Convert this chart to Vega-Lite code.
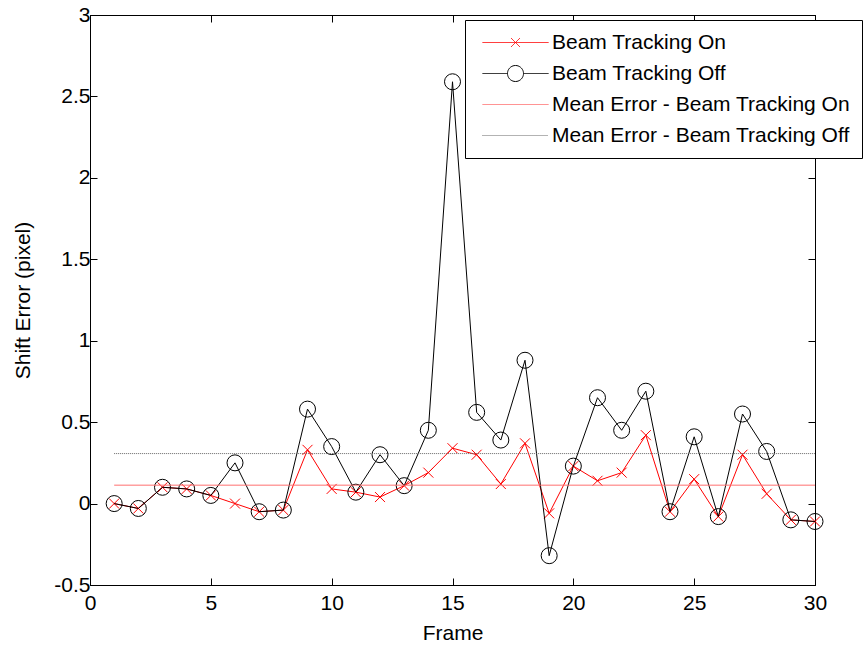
{
  "$schema": "https://vega.github.io/schema/vega-lite/v6.json",
  "width": 725,
  "height": 570,
  "autosize": {"type": "none"},
  "padding": {"left": 90, "top": 15, "right": 51, "bottom": 65},
  "background": "white",
  "config": {
    "view": {"stroke": "black", "strokeWidth": 1},
    "font": "Liberation Sans",
    "axis": {
      "grid": false,
      "domainColor": "black",
      "tickColor": "black",
      "labelColor": "black",
      "titleColor": "black",
      "labelFont": "Liberation Sans",
      "titleFont": "Liberation Sans",
      "labelFontSize": 21,
      "titleFontSize": 21,
      "titleFontWeight": "normal",
      "labelFlush": false
    }
  },
  "datasets": {
    "errors": [
      {"frame": 1, "series": "Beam Tracking On", "err": 0.0},
      {"frame": 2, "series": "Beam Tracking On", "err": -0.03},
      {"frame": 3, "series": "Beam Tracking On", "err": 0.10},
      {"frame": 4, "series": "Beam Tracking On", "err": 0.09},
      {"frame": 5, "series": "Beam Tracking On", "err": 0.05},
      {"frame": 6, "series": "Beam Tracking On", "err": 0.0},
      {"frame": 7, "series": "Beam Tracking On", "err": -0.05},
      {"frame": 8, "series": "Beam Tracking On", "err": -0.04},
      {"frame": 9, "series": "Beam Tracking On", "err": 0.33},
      {"frame": 10, "series": "Beam Tracking On", "err": 0.09},
      {"frame": 11, "series": "Beam Tracking On", "err": 0.07},
      {"frame": 12, "series": "Beam Tracking On", "err": 0.04},
      {"frame": 13, "series": "Beam Tracking On", "err": 0.11},
      {"frame": 14, "series": "Beam Tracking On", "err": 0.19},
      {"frame": 15, "series": "Beam Tracking On", "err": 0.34},
      {"frame": 16, "series": "Beam Tracking On", "err": 0.30},
      {"frame": 17, "series": "Beam Tracking On", "err": 0.12},
      {"frame": 18, "series": "Beam Tracking On", "err": 0.37},
      {"frame": 19, "series": "Beam Tracking On", "err": -0.06},
      {"frame": 20, "series": "Beam Tracking On", "err": 0.23},
      {"frame": 21, "series": "Beam Tracking On", "err": 0.14},
      {"frame": 22, "series": "Beam Tracking On", "err": 0.19},
      {"frame": 23, "series": "Beam Tracking On", "err": 0.42},
      {"frame": 24, "series": "Beam Tracking On", "err": -0.05},
      {"frame": 25, "series": "Beam Tracking On", "err": 0.15},
      {"frame": 26, "series": "Beam Tracking On", "err": -0.08},
      {"frame": 27, "series": "Beam Tracking On", "err": 0.30},
      {"frame": 28, "series": "Beam Tracking On", "err": 0.06},
      {"frame": 29, "series": "Beam Tracking On", "err": -0.10},
      {"frame": 30, "series": "Beam Tracking On", "err": -0.11},
      {"frame": 1, "series": "Beam Tracking Off", "err": 0.0},
      {"frame": 2, "series": "Beam Tracking Off", "err": -0.03},
      {"frame": 3, "series": "Beam Tracking Off", "err": 0.10},
      {"frame": 4, "series": "Beam Tracking Off", "err": 0.09},
      {"frame": 5, "series": "Beam Tracking Off", "err": 0.05},
      {"frame": 6, "series": "Beam Tracking Off", "err": 0.25},
      {"frame": 7, "series": "Beam Tracking Off", "err": -0.05},
      {"frame": 8, "series": "Beam Tracking Off", "err": -0.04},
      {"frame": 9, "series": "Beam Tracking Off", "err": 0.58},
      {"frame": 10, "series": "Beam Tracking Off", "err": 0.35},
      {"frame": 11, "series": "Beam Tracking Off", "err": 0.07},
      {"frame": 12, "series": "Beam Tracking Off", "err": 0.30},
      {"frame": 13, "series": "Beam Tracking Off", "err": 0.11},
      {"frame": 14, "series": "Beam Tracking Off", "err": 0.45},
      {"frame": 15, "series": "Beam Tracking Off", "err": 2.59},
      {"frame": 16, "series": "Beam Tracking Off", "err": 0.56},
      {"frame": 17, "series": "Beam Tracking Off", "err": 0.39},
      {"frame": 18, "series": "Beam Tracking Off", "err": 0.88},
      {"frame": 19, "series": "Beam Tracking Off", "err": -0.32},
      {"frame": 20, "series": "Beam Tracking Off", "err": 0.23},
      {"frame": 21, "series": "Beam Tracking Off", "err": 0.65},
      {"frame": 22, "series": "Beam Tracking Off", "err": 0.45},
      {"frame": 23, "series": "Beam Tracking Off", "err": 0.69},
      {"frame": 24, "series": "Beam Tracking Off", "err": -0.05},
      {"frame": 25, "series": "Beam Tracking Off", "err": 0.41},
      {"frame": 26, "series": "Beam Tracking Off", "err": -0.08},
      {"frame": 27, "series": "Beam Tracking Off", "err": 0.55},
      {"frame": 28, "series": "Beam Tracking Off", "err": 0.32},
      {"frame": 29, "series": "Beam Tracking Off", "err": -0.10},
      {"frame": 30, "series": "Beam Tracking Off", "err": -0.11}
    ],
    "means": [
      {"series": "Mean Error - Beam Tracking On", "start": 1, "end": 30, "mean": 0.113},
      {"series": "Mean Error - Beam Tracking Off", "start": 1, "end": 30, "mean": 0.307}
    ]
  },
  "layer": [
    {
      "layer": [
        {
          "data": {"name": "errors"},
          "transform": [{"filter": "datum.series === 'Beam Tracking On'"}],
          "mark": {"type": "line", "strokeWidth": 1},
          "encoding": {
            "x": {"field": "frame", "type": "quantitative", "scale": {"domain": [0, 30], "nice": false, "zero": false},
              "axis": {"orient": "bottom", "values": [0, 5, 10, 15, 20, 25, 30], "tickSize": -7, "labelPadding": 14, "title": "Frame", "titlePadding": 9}},
            "y": {"field": "err", "type": "quantitative", "scale": {"domain": [-0.5, 3], "nice": false, "zero": false},
              "axis": {"orient": "left", "values": [-0.5, 0, 0.5, 1, 1.5, 2, 2.5, 3], "labelExpr": "'' + datum.value", "tickSize": -7, "labelPadding": 7, "title": "Shift Error (pixel)", "titlePadding": 20}},
            "color": {"field": "series", "type": "nominal",
              "scale": {"domain": ["Beam Tracking On", "Beam Tracking Off", "Mean Error - Beam Tracking On", "Mean Error - Beam Tracking Off"], "range": ["#ff0000", "#000000", "#ff7070", "#666666"]},
              "legend": {
                "title": null,
                "orient": "none",
                "legendX": 375,
                "legendY": 5,
                "direction": "vertical",
                "columns": 1,
                "strokeColor": "black",
                "fillColor": "white",
                "padding": 12,
                "rowPadding": 9,
                "symbolSize": 100,
                "symbolStrokeWidth": 1,
                "labelFont": "Liberation Sans",
                "labelFontSize": 21,
                "labelColor": "black",
                "labelOffset": 54,
                "labelLimit": 400,
                "encode": {
                  "symbols": {
                    "update": {
                      "shape": {"signal": "datum.value === 'Beam Tracking On' ? 'M-1,0H12.2M4.7,-0.9L6.5,0.9M4.7,0.9L6.5,-0.9' : datum.value === 'Beam Tracking Off' ? 'M-1,0H4M7.2,0H12.2M4,0A1.6,1.6 0 1,0 7.2,0A1.6,1.6 0 1,0 4,0' : 'M-1,0H12.2'"},
                      "strokeDash": {"signal": "datum.value === 'Mean Error - Beam Tracking Off' ? [1, 1] : [1, 0]"},
                      "fill": {"value": "transparent"},
                      "strokeWidth": {"value": 1},
                      "opacity": {"value": 1}
                    }
                  }
                }
              }
            }
          }
        },
        {
          "data": {"name": "errors"},
          "transform": [{"filter": "datum.series === 'Beam Tracking On'"}],
          "mark": {"type": "point", "shape": "M-1,-1L1,1M-1,1L1,-1", "filled": false, "size": 100, "strokeWidth": 1, "opacity": 1},
          "encoding": {
            "x": {"field": "frame", "type": "quantitative"},
            "y": {"field": "err", "type": "quantitative"},
            "color": {"field": "series", "type": "nominal"}
          }
        },
        {
          "data": {"name": "errors"},
          "transform": [{"filter": "datum.series === 'Beam Tracking Off'"}],
          "mark": {"type": "line", "strokeWidth": 1},
          "encoding": {
            "x": {"field": "frame", "type": "quantitative"},
            "y": {"field": "err", "type": "quantitative"},
            "color": {"field": "series", "type": "nominal"}
          }
        },
        {
          "data": {"name": "errors"},
          "transform": [{"filter": "datum.series === 'Beam Tracking Off'"}],
          "mark": {"type": "point", "shape": "circle", "filled": false, "size": 256, "strokeWidth": 1, "opacity": 1},
          "encoding": {
            "x": {"field": "frame", "type": "quantitative"},
            "y": {"field": "err", "type": "quantitative"},
            "color": {"field": "series", "type": "nominal"}
          }
        },
        {
          "data": {"name": "means"},
          "transform": [{"filter": "datum.series === 'Mean Error - Beam Tracking On'"}],
          "mark": {"type": "rule", "strokeWidth": 1},
          "encoding": {
            "x": {"field": "start", "type": "quantitative"},
            "x2": {"field": "end"},
            "y": {"field": "mean", "type": "quantitative"},
            "color": {"field": "series", "type": "nominal"}
          }
        }
      ]
    },
    {
      "data": {"name": "means"},
      "transform": [{"filter": "datum.series === 'Mean Error - Beam Tracking Off'"}],
      "mark": {"type": "rule", "strokeWidth": 1, "strokeDash": [1, 1]},
      "encoding": {
        "x": {"field": "start", "type": "quantitative",
          "axis": {"orient": "top", "values": [0, 5, 10, 15, 20, 25, 30], "labels": false, "title": null, "tickSize": -7}},
        "x2": {"field": "end"},
        "y": {"field": "mean", "type": "quantitative",
          "axis": {"orient": "right", "values": [-0.5, 0, 0.5, 1, 1.5, 2, 2.5, 3], "labels": false, "title": null, "tickSize": -7}},
        "color": {"field": "series", "type": "nominal"}
      }
    }
  ],
  "resolve": {"axis": {"x": "independent", "y": "independent"}}
}
